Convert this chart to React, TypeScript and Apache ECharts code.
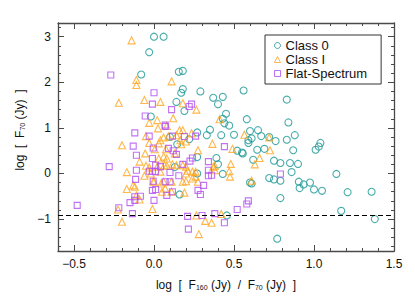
import React, { useEffect, useRef } from "react";
import * as echarts from "echarts";

const seriesNames = ["Class 0", "Class I", "Flat-Spectrum"];
const seriesColors = ["#1b9896", "#ffa51f", "#b14ff0"];

const class0: [number, number][] = [
  [0.0, 3.0], [0.06, 3.0], [-0.03, 2.66], [-0.08, 2.17], [0.155, 2.23], [0.18, 2.25],
  [0.18, 1.85], [0.17, 1.77], [0.29, 1.8], [0.14, 1.57], [0.19, 1.37], [0.37, 1.66],
  [0.43, 1.68], [0.4, 1.52], [0.56, 1.82], [0.83, 1.62], [-0.02, 1.25], [0.45, 1.31],
  [0.43, 1.2], [0.44, 1.1], [0.47, 1.05], [0.58, 1.19], [0.84, 1.12], [0.35, 0.96],
  [0.33, 0.84], [0.27, 0.9], [0.42, 0.84], [0.5, 0.85], [0.6, 0.93], [0.65, 0.95],
  [0.67, 0.82], [0.61, 0.77], [0.59, 0.73], [0.59, 0.67], [0.72, 0.8], [0.76, 0.71],
  [0.83, 0.74], [0.88, 0.84], [0.87, 0.51], [0.645, 0.52], [0.69, 0.54], [1.01, 0.52],
  [1.03, 0.59], [1.04, 0.67], [0.52, 0.5], [0.55, 0.46], [0.555, 0.44], [0.39, 0.34],
  [0.4, 0.2], [0.62, 0.3], [0.75, 0.28], [0.79, 0.23], [0.85, 0.23], [0.9, 0.21],
  [0.86, 0.03], [0.27, 0.36], [0.27, 0.0], [0.13, 0.14], [0.43, -0.01], [0.72, -0.1],
  [0.75, -0.13], [0.79, -0.16], [0.6, -0.2], [0.61, -0.22], [0.905, -0.18], [0.91, -0.32],
  [0.935, -0.24], [0.975, -0.2], [1.0, -0.35], [1.05, -0.38], [1.14, -0.01], [1.21, -0.41],
  [1.36, -0.4], [0.16, -0.46], [0.79, -0.54], [1.17, -0.82], [0.455, -0.92], [1.38, -1.0],
  [0.77, -1.43], [0.145, 0.64], [0.22, 0.75], [0.1, 0.8],
];

const class1: [number, number][] = [
  [-0.14, 2.92], [-0.11, 2.05], [-0.11, 1.94], [0.11, 2.02], [-0.22, 1.55], [-0.06, 1.61],
  [0.04, 1.57], [0.18, 1.54], [0.265, 1.4], [0.12, 1.21], [-0.03, 1.11], [0.02, 1.17],
  [0.025, 0.99], [0.08, 1.04], [0.41, 1.19], [0.16, 0.95], [0.18, 0.95], [0.09, 0.81],
  [0.06, 0.79], [-0.05, 0.82], [-0.03, 0.67], [-0.2, 0.62], [0.03, 0.66], [0.14, 0.84],
  [0.165, 0.73], [0.17, 0.64], [0.235, 0.88], [0.275, 0.51], [0.365, 0.65], [0.075, 0.53],
  [-0.055, 0.44], [0.005, 0.53], [0.565, 0.85], [0.72, 0.79], [0.725, 0.51], [0.49, 0.54],
  [0.66, 0.34], [0.63, 0.2], [0.48, 0.21], [0.47, 0.05], [0.475, -0.07], [0.37, 0.15],
  [0.38, 0.07], [-0.09, 0.26], [-0.05, 0.17], [-0.03, 0.13], [0.03, 0.33], [0.06, 0.37],
  [0.08, 0.33], [0.02, 0.15], [0.04, 0.04], [-0.02, 0.0], [-0.06, -0.05], [-0.005, -0.17],
  [-0.17, 0.03], [-0.17, -0.34], [-0.13, -0.26], [-0.12, -0.29], [-0.09, -0.57], [-0.11, -0.48],
  [0.065, 0.18], [0.08, 0.17], [0.115, 0.2], [0.14, 0.18], [0.18, 0.18], [0.2, 0.15],
  [0.2, 0.0], [0.21, 0.06], [0.24, 0.04], [0.26, 0.04], [0.26, -0.07], [0.24, -0.11],
  [0.2, -0.17], [0.18, -0.18], [0.11, -0.18], [0.06, -0.18], [0.045, -0.22], [0.0, -0.18],
  [0.07, -0.33], [0.05, -0.4], [0.11, -0.4], [0.19, -0.42], [0.275, -0.18], [-0.01, -0.78],
  [-0.225, -0.79], [-0.2, -1.06], [0.265, -0.92], [0.32, -1.04], [0.36, -1.08], [0.42, -0.89],
  [0.28, -1.33], [0.61, -0.16], [0.38, 0.17], [0.13, 0.44], [0.04, 0.73], [0.2, 0.7],
];

const flat: [number, number][] = [
  [-0.27, 2.16], [0.0, 1.77], [-0.01, 1.52], [-0.055, 1.26], [0.11, 1.4], [0.22, 1.47],
  [0.235, 1.52], [0.07, 1.06], [0.07, 1.03], [-0.12, 0.89], [-0.03, 0.82], [0.115, 0.82],
  [0.19, 0.81], [0.26, 0.82], [-0.13, 0.6], [-0.005, 0.56], [0.09, 0.55], [0.12, 0.5],
  [0.14, 0.42], [0.44, 0.59], [-0.11, 0.4], [-0.01, 0.33], [0.24, 0.34], [0.225, 0.27],
  [0.34, 0.26], [0.18, 0.2], [0.01, 0.18], [0.04, 0.15], [-0.28, 0.15], [-0.11, 0.07],
  [-0.03, 0.05], [-0.01, 0.05], [0.01, 0.04], [0.1, 0.02], [0.34, 0.07], [0.36, -0.04],
  [0.34, -0.05], [0.155, -0.05], [0.79, -0.01], [-0.115, -0.13], [-0.005, -0.17], [0.07, -0.18],
  [0.1, -0.18], [0.31, -0.26], [-0.01, -0.37], [0.01, -0.35], [0.115, -0.4], [0.08, -0.48],
  [0.275, -0.37], [0.29, -0.46], [0.0, -0.59], [-0.085, -0.5], [-0.12, -0.51], [-0.12, -0.59],
  [-0.15, -0.64], [-0.135, -0.88], [-0.48, -0.7], [-0.22, -0.75], [0.21, -0.94], [0.3, -0.92],
  [0.38, -0.88], [0.44, -1.08], [0.52, -0.79], [0.58, -0.67], [0.59, -0.6], [0.215, -1.22],
];

const xRange = [-0.6, 1.5];
const yRange = [-1.7, 3.3];
const xMajor = [-0.5, 0.0, 0.5, 1.0, 1.5];
const yMajor = [-1, 0, 1, 2, 3];
const threshold = -0.92;

const FONT = "Liberation Sans";
const FRAME = "#4a4a4a";

function isMajor(v: number, majors: number[]) {
  return majors.some((m) => Math.abs(m - v) < 1e-6);
}
function fmtMinus(s: string) {
  return s.replace("-", "\u2212");
}

export default function App() {
  const ref = useRef<HTMLDivElement>(null);
  useEffect(() => {
    document.body.style.margin = "0";
    if (!ref.current) return;
    const chart = echarts.init(ref.current, undefined, { renderer: "svg" });
    const tickCommon = {
      axisLine: { show: true, onZero: false, lineStyle: { color: FRAME, width: 1.3 } },
      axisTick: { show: true, inside: true, length: 6, lineStyle: { color: FRAME, width: 1 } },
      minorTick: { show: true, splitNumber: 5, length: 3, lineStyle: { color: FRAME, width: 1 } },
      splitLine: { show: false },
      minorSplitLine: { show: false },
    };
    const symbols = ["circle", "triangle", "rect"];
    const sizes = [7, 7, 6];
    const datasets = [class0, class1, flat];
    const series: any[] = datasets.map((d, i) => ({
      name: seriesNames[i],
      type: "scatter",
      data: d,
      symbol: symbols[i],
      symbolSize: sizes[i],
      itemStyle: { color: "transparent", borderColor: seriesColors[i], borderWidth: 1.1 },
      emphasis: { disabled: true },
      z: 2 + i,
    }));
    series[0].markLine = {
      silent: true,
      symbol: ["none", "none"],
      label: { show: false },
      lineStyle: { color: "#000", type: [5, 3], width: 1 },
      data: [{ yAxis: threshold }],
    };
    chart.setOption({
      animation: false,
      textStyle: { fontFamily: FONT },
      grid: { left: 58, right: 21, top: 23, bottom: 46 },
      legend: {
        orient: "vertical",
        left: 265,
        top: 35,
        padding: [4, 14, 4, 9],
        itemGap: 1,
        itemWidth: 6,
        itemHeight: 6,
        borderColor: "#333",
        borderWidth: 1,
        backgroundColor: "#fff",
        itemStyle: { borderWidth: 1 },
        textStyle: { fontSize: 13, color: "#111", fontFamily: FONT },
        data: seriesNames.map((n, i) => ({ name: n, icon: symbols[i] })),
      },
      xAxis: [
        {
          type: "value",
          min: xRange[0],
          max: xRange[1],
          position: "bottom",
          ...tickCommon,
          axisLabel: {
            margin: 7,
            fontSize: 12,
            color: "#111",
            formatter: (v: number) => (isMajor(v, xMajor) ? fmtMinus(v.toFixed(1)) : ""),
          },
          name: "log  [  F{sub|160} (Jy)  /  F{sub|70} (Jy)  ]",
          nameLocation: "middle",
          nameGap: 28,
          nameTextStyle: {
            fontSize: 12,
            color: "#111",
            rich: { sub: { fontSize: 7, padding: [5, 0, 0, 0], color: "#111" } },
          },
        },
        {
          type: "value",
          min: xRange[0],
          max: xRange[1],
          position: "top",
          ...tickCommon,
          axisLabel: { show: false },
        },
      ],
      yAxis: [
        {
          type: "value",
          min: yRange[0],
          max: yRange[1],
          position: "left",
          ...tickCommon,
          axisLabel: {
            margin: 7,
            fontSize: 12,
            color: "#111",
            formatter: (v: number) => (isMajor(v, yMajor) ? fmtMinus(String(Math.round(v))) : ""),
          },
          name: "log  [  F{sub|70} (Jy)  ]",
          nameLocation: "middle",
          nameGap: 28,
          nameRotate: 90,
          nameTextStyle: {
            fontSize: 12,
            color: "#111",
            padding: [0, 0, 0, 14],
            rich: { sub: { fontSize: 7, padding: [5, 0, 0, 0], color: "#111" } },
          },
        },
        {
          type: "value",
          min: yRange[0],
          max: yRange[1],
          position: "right",
          ...tickCommon,
          axisLabel: { show: false },
        },
      ],
      series,
    });
    return () => chart.dispose();
  }, []);
  return <div ref={ref} style={{ width: 415, height: 297 }} />;
}
